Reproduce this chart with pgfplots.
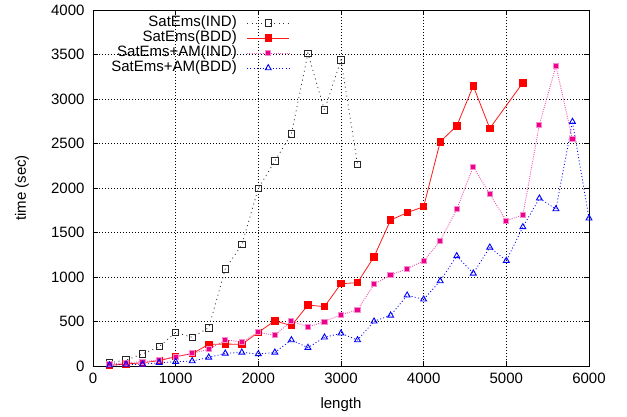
\documentclass[border=0pt]{standalone}
\usepackage{fontspec}
\setmainfont{Liberation Sans}
\usepackage{pgfplots}
\pgfplotsset{compat=1.18}
\begin{document}
\begin{tikzpicture}[font=\fontsize{15bp}{17bp}\selectfont]
\useasboundingbox (-93bp,-51bp) rectangle (534bp,366bp);
\begin{axis}[
  at={(0,0)}, anchor=south west,
  scale only axis, width=496bp, height=356bp,
  xmin=0, xmax=6000, ymin=0, ymax=4000,
  xtick={0,1000,...,6000}, ytick={0,500,...,4000},
  scaled ticks=false,
  /pgf/number format/assume math mode=true,
  /pgf/number format/1000 sep={},
  tick align=inside, major tick length=5bp,
  xtick pos=both, ytick pos=both,
  axis line style={line width=0.9bp},
  every tick/.style={black, line width=0.8bp},
  grid=major,
  major grid style={black, line width=0.5bp, dash pattern=on 0.8bp off 2.2bp},
  xticklabel style={yshift=-4bp},
  yticklabel style={xshift=-5bp},
  xlabel={length}, ylabel={time (sec)},
  xlabel style={at={(axis description cs:0.5,-0.1096)}, anchor=center},
  ylabel style={at={(axis description cs:-0.143,0.5)}, anchor=center},
  legend plot pos=right,
  legend cell align=right,
  legend style={draw=none, fill=none, at={(axis description cs:0.397,0.985)}, anchor=north east,
    inner sep=0pt, column sep=10bp, row sep=0pt,
    nodes={inner sep=0pt, text height=11bp, text depth=4bp}},
  legend image code/.code={
    \draw[mark repeat=2,mark phase=2,#1] plot coordinates {(0bp,0bp) (21bp,0bp) (42bp,0bp)};
  },
]
\addplot[black!80, line width=0.8bp, dash pattern=on 1bp off 3.5bp,
  mark=square, mark size=3.2bp, mark options={solid, line width=0.8bp, black!85}]
coordinates {(200,37) (400,67) (600,135) (800,217) (1000,378) (1200,322) (1400,430)
(1600,1090) (1800,1363) (2000,1996) (2200,2303) (2400,2607) (2600,3513)
(2800,2876) (3000,3438) (3200,2266)};
\addlegendentry{SatEms(IND)}
\addplot[red!90, line width=0.8bp, mark=square*, mark size=3.2bp, mark options={solid, red}]
coordinates {(200,8) (400,22) (600,37) (800,60) (1000,105) (1200,139) (1400,243)
(1600,247) (1800,243) (2000,378) (2200,509) (2400,453) (2600,685) (2800,667)
(3000,925) (3200,936) (3400,1228) (3600,1640) (3800,1723) (4000,1790)
(4200,2520) (4400,2697) (4600,3146) (4800,2670) (5200,3183)};
\addlegendentry{SatEms(BDD)}
\addplot[magenta!65, line width=0.9bp, dash pattern=on 1bp off 1.2bp,
  mark=square*, mark size=2.6bp, mark options={solid, fill=magenta, draw=magenta!45, line width=1bp}]
coordinates {(200,22) (400,37) (600,48) (800,67) (1000,105) (1200,142) (1400,187)
(1600,292) (1800,273) (2000,378) (2200,345) (2400,506) (2600,438) (2800,498)
(3000,577) (3200,629) (3400,918) (3600,1022) (3800,1094) (4000,1180)
(4200,1404) (4400,1760) (4600,2240) (4800,1929) (5000,1633) (5200,1697)
(5400,2712) (5600,3371) (5800,2547)};
\addlegendentry{SatEms+AM(IND)}
\addplot[blue, line width=0.8bp, dash pattern=on 1bp off 2.2bp,
  mark=triangle, mark size=3.4bp, mark options={solid, line width=0.9bp}]
coordinates {(200,8) (400,18) (600,18) (800,37) (1000,48) (1200,56) (1400,97)
(1600,142) (1800,153) (2000,135) (2200,153) (2400,292) (2600,206) (2800,322)
(3000,367) (3200,292) (3400,502) (3600,569) (3800,794) (4000,749)
(4200,955) (4400,1236) (4600,1041) (4800,1333) (5000,1183) (5200,1562)
(5400,1884) (5600,1764) (5800,2745) (6000,1660)};
\addlegendentry{SatEms+AM(BDD)}
\end{axis}
\end{tikzpicture}
\end{document}
